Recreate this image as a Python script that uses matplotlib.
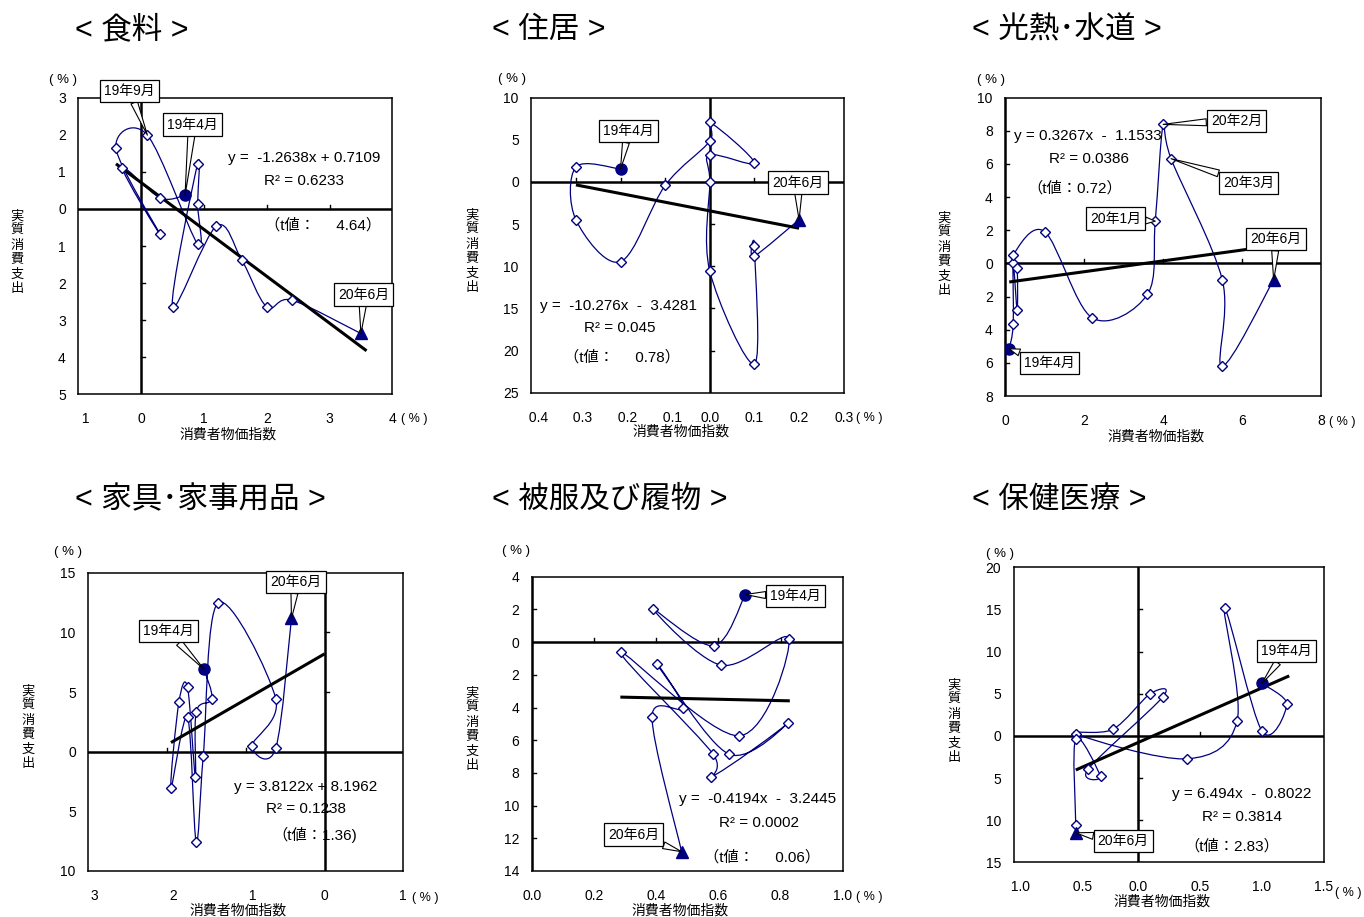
import matplotlib
matplotlib.use('Agg')
import matplotlib.pyplot as plt
from matplotlib.path import Path
from matplotlib.patches import PathPatch
import numpy as np

plt.rcParams['font.family'] = ['Liberation Sans', 'Noto Sans CJK JP', 'DejaVu Sans']

W, H = 1364, 917
NAVY = '#000080'
NEG = '\u3000'  # blank where the minus sign would be

# ---------------- data ----------------
# 食料
food_cpi = [0.7, 0.3, -0.3, 0.3, -0.4, 0.1, 0.9, 0.9, 0.9, 0.5, 1.2, 1.6, 2.0, 2.4, 3.5]
food_spend = [0.37, 0.30, 1.11, -0.68, 1.63, 1.99, -0.95, 0.13, 1.22, -2.64, -0.46, -1.37, -2.64, -2.46, -3.36]
# 住居
house_cpi = [-0.2, -0.3, -0.3, -0.2, -0.1, 0.0, 0.0, 0.1, 0.0, 0.0, 0.0, 0.1, 0.1, 0.1, 0.2]
house_spend = [1.54, 1.78, -4.5, -9.45, -0.40, 4.86, 7.08, 2.25, 3.2, 0.0, -10.6, -21.6, -7.55, -8.8, -4.47]
# 光熱・水道
util_cpi = [0.1, 0.2, 0.2, 0.3, 0.3, 0.2, 1.0, 2.2, 3.6, 3.8, 4.0, 4.2, 5.5, 5.5, 6.8]
util_spend = [-5.15, -3.68, 0.0, -2.82, -0.30, 0.52, 1.91, -3.28, -1.87, 2.55, 8.39, 6.32, -1.0, -6.19, -1.0]
# 家具・家事用品
furn_cpi = [-1.53, -1.43, -1.63, -1.64, -1.74, -1.85, -1.95, -1.74, -1.63, -1.54, -1.35, -0.62, -0.92, -0.62, -0.42]
furn_spend = [6.90, 4.41, 3.35, -2.15, 5.39, 4.13, -3.02, 2.88, -7.57, -0.34, 12.49, 4.44, 0.50, 0.28, 11.17]
# 被服及び履物
cloth_cpi = [0.687, 0.585, 0.390, 0.609, 0.827, 0.668, 0.287, 0.583, 0.576, 0.825, 0.634, 0.404, 0.488, 0.387, 0.482]
cloth_spend = [2.91, -0.22, 2.04, -1.41, 0.22, -5.73, -0.63, -6.85, -8.26, -4.93, -6.85, -1.35, -4.02, -4.57, -12.82]
# 保健医療
health_cpi = [1.0, 1.2, 1.0, 0.7, 0.8, 0.4, -0.5, -0.2, 0.1, 0.2, -0.4, -0.3, -0.5, -0.5, -0.5]
health_spend = [6.23, 3.78, 0.58, 15.12, 1.77, -2.72, 0.22, 0.78, 5.0, 4.6, -3.93, -4.8, -0.33, -10.58, -11.5]

# regression results (slope, intercept) and texts
food_fit = (-1.2638, 0.7109)
house_fit = (-10.276, -3.4281)
util_fit = (0.3267, -1.1533)
furn_fit = (3.8122, 8.1962)
cloth_fit = (-0.4194, -3.2445)
health_fit = (6.494, -0.8022)

food_trend_x = [-0.40, 3.59]
house_trend_x = [-0.30, 0.20]
util_trend_x = [0.10, 6.80]
furn_trend_x = [-1.95, 0.0]
cloth_trend_x = [0.285, 0.83]
health_trend_x = [-0.50, 1.22]

food_eq = ['y =  -1.2638x + 0.7109', 'R² = 0.6233', '（t値：     4.64）']
house_eq = ['y =  -10.276x  -  3.4281', 'R² = 0.045', '（t値：     0.78）']
util_eq = ['y = 0.3267x  -  1.1533', 'R² = 0.0386', '（t値：0.72）']
furn_eq = ['y = 3.8122x + 8.1962', 'R² = 0.1238', '（t値：1.36)']
cloth_eq = ['y =  -0.4194x  -  3.2445', 'R² = 0.0002', '（t値：     0.06）']
health_eq = ['y = 6.494x  -  0.8022', 'R² = 0.3814', '（t値：2.83）']

# tick values and labels
food_xticks = [-1, 0, 1, 2, 3, 4]
food_xtl = [NEG + '1', '0', '1', '2', '3', '4']
food_yticks = [-5, -4, -3, -2, -1, 0, 1, 2, 3]
food_ytl = ['5', '4', '3', '2', '1', '0', '1', '2', '3']

house_xticks = [-0.4, -0.3, -0.2, -0.1, 0.0, 0.1, 0.2, 0.3]
house_xtl = [NEG + '0.4', NEG + '0.3', NEG + '0.2', NEG + '0.1', '0.0', '0.1', '0.2', '0.3']
house_yticks = [-25, -20, -15, -10, -5, 0, 5, 10]
house_ytl = ['25', '20', '15', '10', '5', '0', '5', '10']

util_xticks = [0, 2, 4, 6, 8]
util_xtl = ['0', '2', '4', '6', '8']
util_yticks = [-8, -6, -4, -2, 0, 2, 4, 6, 8, 10]
util_ytl = ['8', '6', '4', '2', '0', '2', '4', '6', '8', '10']

furn_xticks = [-3, -2, -1, 0, 1]
furn_xtl = [NEG + '3', NEG + '2', NEG + '1', '0', '1']
furn_yticks = [-10, -5, 0, 5, 10, 15]
furn_ytl = ['10', '5', '0', '5', '10', '15']

cloth_xticks = [0.0, 0.2, 0.4, 0.6, 0.8, 1.0]
cloth_xtl = ['0.0', '0.2', '0.4', '0.6', '0.8', '1.0']
cloth_yticks = [-14, -12, -10, -8, -6, -4, -2, 0, 2, 4]
cloth_ytl = ['14', '12', '10', '8', '6', '4', '2', '0', '2', '4']

health_xticks = [-1.0, -0.5, 0.0, 0.5, 1.0, 1.5]
health_xtl = [NEG + '1.0', NEG + '0.5', '0.0', '0.5', '1.0', '1.5']
health_yticks = [-15, -10, -5, 0, 5, 10, 15, 20]
health_ytl = ['15', '10', '5', '0', '5', '10', '15', '20']

titles = ['< 食料 >', '< 住居 >', '< 光熱･水道 >', '< 家具･家事用品 >', '< 被服及び履物 >', '< 保健医療 >']
x_title = '消費者物価指数'
y_title = '実質消費支出'


# ---------------- helpers ----------------
def fpx(x, y):
    return (x / W, 1 - y / H)


def smooth_path(xs, ys):
    pts = np.column_stack([xs, ys]).astype(float)
    n = len(pts)
    ext = np.vstack([pts[0], pts, pts[-1]])
    verts = [pts[0]]
    codes = [Path.MOVETO]
    for i in range(n - 1):
        p0, p1, p2, p3 = ext[i], ext[i + 1], ext[i + 2], ext[i + 3]
        c1 = p1 + (p2 - p0) / 6.0
        c2 = p2 - (p3 - p1) / 6.0
        verts += [c1, c2, p2]
        codes += [Path.CURVE4] * 3
    return Path(verts, codes)


panels = [
    dict(title=titles[0], title_xy=(75, 30), rect=(78.3, 97.7, 392.3, 394.3),
         x=food_cpi, y=food_spend, xlim=(-1, 4), ylim=(-5, 3),
         xt=food_xticks, xtl=food_xtl, yt=food_yticks, ytl=food_ytl,
         fit=food_fit, tx=food_trend_x, eq=food_eq,
         eq_xy=[(304, 158), (304, 181), (323, 225)],
         calls=[(5, '19年9月', (129.5, 91)), (0, '19年4月', (192.5, 124.5)), (14, '20年6月', (363.5, 294.5))],
         pct_top=(63, 80), pct_x=(414, 419), xlab=(228, 435), ylab=(17, 253)),
    dict(title=titles[1], title_xy=(492, 30), rect=(531.3, 97.7, 843.7, 392.7),
         x=house_cpi, y=house_spend, xlim=(-0.4, 0.3), ylim=(-25, 10),
         xt=house_xticks, xtl=house_xtl, yt=house_yticks, ytl=house_ytl,
         fit=house_fit, tx=house_trend_x, eq=house_eq,
         eq_xy=[(619, 306), (620, 328), (622, 357)],
         calls=[(0, '19年4月', (628.3, 131)), (14, '20年6月', (798, 182.5))],
         pct_top=(512, 79), pct_x=(869, 418), xlab=(681, 432), ylab=(472, 252)),
    dict(title=titles[2], title_xy=(972, 30), rect=(1005.3, 97.7, 1321, 396),
         x=util_cpi, y=util_spend, xlim=(0, 8), ylim=(-8, 10),
         xt=util_xticks, xtl=util_xtl, yt=util_yticks, ytl=util_ytl,
         fit=util_fit, tx=util_trend_x, eq=util_eq,
         eq_xy=[(1088, 136), (1089, 159), (1075, 188)],
         calls=[(10, '20年2月', (1236.5, 120.8)), (11, '20年3月', (1248.5, 182.7)),
                (9, '20年1月', (1115.5, 218.5)), (14, '20年6月', (1275.8, 239.2)),
                (0, '19年4月', (1049.3, 363.2))],
         pct_top=(991, 80), pct_x=(1342, 422), xlab=(1156, 437), ylab=(944, 255)),
    dict(title=titles[3], title_xy=(75, 500), rect=(88.3, 572.7, 403.3, 871),
         x=furn_cpi, y=furn_spend, xlim=(-3, 1), ylim=(-10, 15),
         xt=furn_xticks, xtl=furn_xtl, yt=furn_yticks, ytl=furn_ytl,
         fit=furn_fit, tx=furn_trend_x, eq=furn_eq,
         eq_xy=[(306, 787), (306, 809), (315, 835)],
         calls=[(0, '19年4月', (168.2, 631.3)), (14, '20年6月', (295.8, 581.8))],
         pct_top=(68, 552), pct_x=(425, 898), xlab=(238, 911), ylab=(28, 728)),
    dict(title=titles[4], title_xy=(492, 500), rect=(531.7, 576.7, 842.7, 871),
         x=cloth_cpi, y=cloth_spend, xlim=(0, 1.0), ylim=(-14, 4),
         xt=cloth_xticks, xtl=cloth_xtl, yt=cloth_yticks, ytl=cloth_ytl,
         fit=cloth_fit, tx=cloth_trend_x, eq=cloth_eq,
         eq_xy=[(758, 799), (759, 823), (762, 857)],
         calls=[(0, '19年4月', (795.5, 595.8)), (14, '20年6月', (633.5, 834.5))],
         pct_top=(516, 551), pct_x=(869, 897), xlab=(680, 911), ylab=(472, 730)),
    dict(title=titles[5], title_xy=(972, 500), rect=(1013.7, 567.3, 1324, 862.3),
         x=health_cpi, y=health_spend, xlim=(-1.0, 1.5), ylim=(-15, 20),
         xt=health_xticks, xtl=health_xtl, yt=health_yticks, ytl=health_ytl,
         fit=health_fit, tx=health_trend_x, eq=health_eq,
         eq_xy=[(1242, 794), (1242, 817), (1232, 846)],
         calls=[(0, '19年4月', (1286.2, 651)), (14, '20年6月', (1123.3, 841.2))],
         pct_top=(1000, 554), pct_x=(1348, 893), xlab=(1162, 902), ylab=(954, 722)),
]

fig = plt.figure(figsize=(W / 100, H / 100), dpi=100)
fig.patch.set_facecolor('white')

for p in panels:
    x0, y0, x1, y1 = p['rect']
    l, b = fpx(x0, y1)
    wpx, hpx = x1 - x0, y1 - y0
    ax = fig.add_axes([l, b, wpx / W, hpx / H])
    ax.set_xlim(p['xlim'])
    ax.set_ylim(p['ylim'])
    ax.set_xticks(p['xt'])
    ax.set_xticklabels(p['xtl'])
    ax.set_yticks(p['yt'])
    ax.set_yticklabels(p['ytl'])
    ax.tick_params(length=0, labelsize=10, colors='black')
    ax.tick_params(axis='x', pad=13)
    ax.tick_params(axis='y', pad=9)
    for s in ax.spines.values():
        s.set_linewidth(1.1)
        s.set_color('black')
    ax.axhline(0, color='black', lw=1.8, zorder=2)
    ax.axvline(0, color='black', lw=1.8, zorder=2)
    xr = p['xlim'][1] - p['xlim'][0]
    yr = p['ylim'][1] - p['ylim'][0]
    dy = 4.0 / hpx * yr
    dx = 4.0 / wpx * xr
    for t in p['xt']:
        if p['xlim'][0] < t < p['xlim'][1] and abs(t) > 1e-9:
            ax.plot([t, t], [0, dy], color='black', lw=1.0, zorder=2)
    for t in p['yt']:
        if p['ylim'][0] < t < p['ylim'][1] and abs(t) > 1e-9:
            ax.plot([0, dx], [t, t], color='black', lw=1.0, zorder=2)

    xs = np.array(p['x'], float)
    ys = np.array(p['y'], float)
    ax.add_patch(PathPatch(smooth_path(xs, ys), fill=False, ec=NAVY, lw=0.9, zorder=3))
    a, c = p['fit']
    tx = np.array(p['tx'], float)
    ax.plot(tx, a * tx + c, color='black', lw=2.2, zorder=4, solid_capstyle='butt')
    ax.plot(xs[1:-1], ys[1:-1], 'D', ms=5.5, mfc='white', mec=NAVY, mew=1.0, zorder=5, ls='none')
    ax.plot(xs[:1], ys[:1], 'o', ms=8, color=NAVY, zorder=6)
    ax.plot(xs[-1:], ys[-1:], '^', ms=8, color=NAVY, zorder=6)

    for idx, txt, (cx, cy) in p['calls']:
        ax.annotate(txt, xy=(xs[idx], ys[idx]), xycoords='data',
                    xytext=(cx, H - cy), textcoords='figure pixels',
                    ha='center', va='center', fontsize=10, zorder=10,
                    annotation_clip=False,
                    bbox=dict(boxstyle='square,pad=0.3', fc='white', ec='black', lw=0.9),
                    arrowprops=dict(arrowstyle='wedge,tail_width=0.5', fc='white',
                                    ec='black', lw=0.8, shrinkA=0, shrinkB=0))

    for txt, (ex, ey) in zip(p['eq'], p['eq_xy']):
        fig.text(*fpx(ex, ey), txt, ha='center', va='center', fontsize=11)

    fig.text(*fpx(*p['title_xy']), p['title'], ha='left', va='center', fontsize=22)
    fig.text(*fpx(*p['pct_top']), '( % )', ha='center', va='center', fontsize=9.5)
    fig.text(*fpx(*p['pct_x']), '( % )', ha='center', va='center', fontsize=9)
    fig.text(*fpx(*p['xlab']), x_title, ha='center', va='center', fontsize=10)
    yx, yy = p['ylab']
    n = len(y_title)
    for k, ch in enumerate(y_title):
        fig.text(*fpx(yx, yy + (k - (n - 1) / 2) * 14.5), ch, ha='center', va='center',
                 fontsize=9.5)

fig.savefig('out.png', dpi=100)
